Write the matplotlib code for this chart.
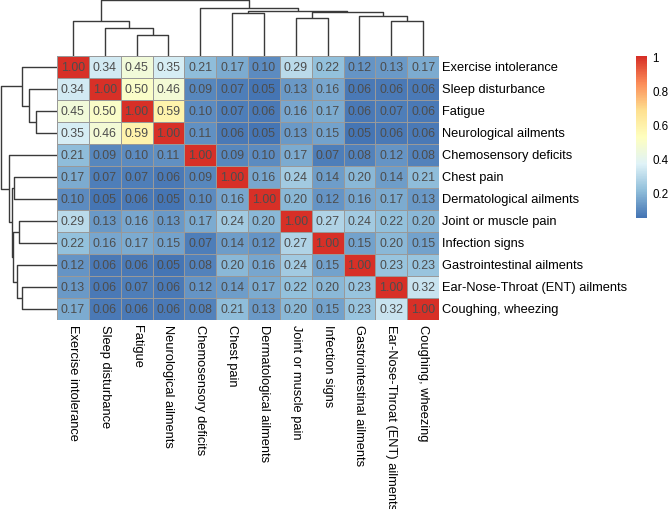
import numpy as np
import matplotlib
matplotlib.use("Agg")
import matplotlib.pyplot as plt
from matplotlib.colors import LinearSegmentedColormap

plt.rcParams['font.family'] = ['Liberation Sans', 'DejaVu Sans']

symptoms = [
    "Exercise intolerance", "Sleep disturbance", "Fatigue", "Neurological ailments",
    "Chemosensory deficits", "Chest pain", "Dermatological ailments",
    "Joint or muscle pain", "Infection signs", "Gastrointestinal ailments",
    "Ear-Nose-Throat (ENT) ailments", "Coughing, wheezing",
]

corr = np.array([
    [1.00, 0.34, 0.45, 0.35, 0.21, 0.17, 0.10, 0.29, 0.22, 0.12, 0.13, 0.17],
    [0.34, 1.00, 0.50, 0.46, 0.09, 0.07, 0.05, 0.13, 0.16, 0.06, 0.06, 0.06],
    [0.45, 0.50, 1.00, 0.59, 0.10, 0.07, 0.06, 0.16, 0.17, 0.06, 0.07, 0.06],
    [0.35, 0.46, 0.59, 1.00, 0.11, 0.06, 0.05, 0.13, 0.15, 0.05, 0.06, 0.06],
    [0.21, 0.09, 0.10, 0.11, 1.00, 0.09, 0.10, 0.17, 0.07, 0.08, 0.12, 0.08],
    [0.17, 0.07, 0.07, 0.06, 0.09, 1.00, 0.16, 0.24, 0.14, 0.20, 0.14, 0.21],
    [0.10, 0.05, 0.06, 0.05, 0.10, 0.16, 1.00, 0.20, 0.12, 0.16, 0.17, 0.13],
    [0.29, 0.13, 0.16, 0.13, 0.17, 0.24, 0.20, 1.00, 0.27, 0.24, 0.22, 0.20],
    [0.22, 0.16, 0.17, 0.15, 0.07, 0.14, 0.12, 0.27, 1.00, 0.15, 0.20, 0.15],
    [0.12, 0.06, 0.06, 0.05, 0.08, 0.20, 0.16, 0.24, 0.15, 1.00, 0.23, 0.23],
    [0.13, 0.06, 0.07, 0.06, 0.12, 0.14, 0.17, 0.22, 0.20, 0.23, 1.00, 0.32],
    [0.17, 0.06, 0.06, 0.06, 0.08, 0.21, 0.13, 0.20, 0.15, 0.23, 0.32, 1.00],
])

# tree merges (left id, right id, height); leaves are 0..11, new nodes from 12
merges = [
    (2, 3, 21.3), (1, 12, 27.7), (0, 13, 35.3), (10, 11, 34.7),
    (9, 15, 39.7), (7, 8, 37.7), (5, 6, 42.7), (17, 16, 44.3),
    (18, 19, 45.3), (4, 20, 48.0), (14, 21, 56.3),
]

cbar_ticks = [0.2, 0.4, 0.6, 0.8, 1.0]
cbar_labels = ["0.2", "0.4", "0.6", "0.8", "1"]

rdylbu7 = ["#4575B4", "#91BFDB", "#E0F3F8", "#FFFFBF", "#FEE090", "#FC8D59", "#D73027"]
cmap = LinearSegmentedColormap.from_list("rdylbu_r", rdylbu7, N=100)
vmin, vmax = corr.min(), corr.max()

W, H = 669, 510
fig = plt.figure(figsize=(W / 100, H / 100), dpi=100)

def box(x0, y0, x1, y1):
    return [x0 / W, 1 - y1 / H, (x1 - x0) / W, (y1 - y0) / H]

n = len(symptoms)
ax = fig.add_axes(box(57, 57, 439, 321))
ax.pcolormesh(np.arange(n + 1), np.arange(n + 1), corr, cmap=cmap, vmin=vmin, vmax=vmax,
              edgecolors="#999999", linewidth=0.6)
ax.set_xlim(0, n)
ax.set_ylim(n, 0)
ax.axis('off')
for i in range(n):
    for j in range(n):
        ax.text(j + 0.5, i + 0.5, f"{corr[i, j]:.2f}", ha='center', va='center',
                fontsize=8.9, color="#4D4D4D")
    ax.text(n + 0.1, i + 0.5, symptoms[i], ha='left', va='center', fontsize=9.3)
    ax.text(i + 0.5, n + 0.2, symptoms[i], rotation=270, rotation_mode='anchor',
            ha='left', va='center', fontsize=9.3)

# dendrogram coordinates
pos = {i: i + 0.5 for i in range(n)}
hgt = {i: 0.0 for i in range(n)}
segs = []
for k, (a, b, h) in enumerate(merges):
    node = n + k
    segs.append(([pos[a], pos[a], pos[b], pos[b]], [hgt[a], h, h, hgt[b]]))
    pos[node] = (pos[a] + pos[b]) / 2
    hgt[node] = h
top_h = max(m[2] for m in merges)

axt = fig.add_axes(box(57, 0, 439, 57))
for xs, ys in segs:
    axt.plot(xs, ys, color="#3a3a3a", lw=1.0, solid_capstyle='butt')
axt.set_xlim(0, n)
axt.set_ylim(0, top_h * 1.013)
axt.axis('off')

axl = fig.add_axes(box(0, 57, 57, 321))
for xs, ys in segs:
    axl.plot(ys, xs, color="#3a3a3a", lw=1.0, solid_capstyle='butt')
axl.set_ylim(n, 0)
axl.set_xlim(top_h * 1.013, 0)
axl.axis('off')

# colour legend
axc = fig.add_axes(box(636, 57, 647, 219))
grad = np.linspace(vmin, vmax, 200).reshape(-1, 1)
axc.imshow(grad, aspect='auto', cmap=cmap, vmin=vmin, vmax=vmax, origin='lower',
           extent=[0, 1, vmin, vmax])
axc.set_xlim(0, 1)
axc.set_ylim(vmin, vmax)
axc.set_xticks([])
axc.yaxis.tick_right()
axc.set_yticks(cbar_ticks)
axc.set_yticklabels(cbar_labels, fontsize=8.4)
axc.tick_params(axis='y', length=0, pad=4)
for s in axc.spines.values():
    s.set_visible(False)

fig.savefig("out.png", dpi=100)
